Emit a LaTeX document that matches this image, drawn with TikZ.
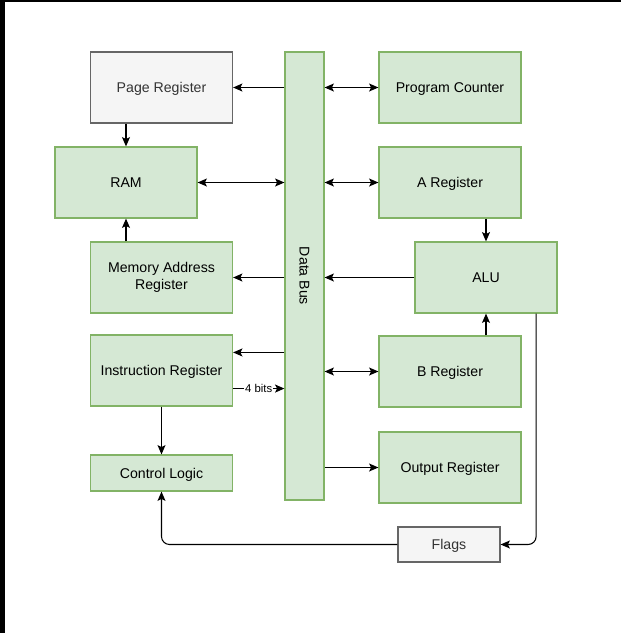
\documentclass[tikz,border=0pt]{standalone}
\usepackage{fontspec}
\setmainfont{Liberation Sans}
\usetikzlibrary{arrows.meta, calc}
\definecolor{regfill}{HTML}{D5E8D4}
\definecolor{regborder}{HTML}{82B366}
\definecolor{auxfill}{HTML}{F5F5F5}
\definecolor{auxborder}{HTML}{666666}
\definecolor{auxtext}{HTML}{333333}

\begin{document}
\begin{tikzpicture}[x=0.75pt, y=-0.75pt, >={Stealth[length=7pt, width=6pt, inset=1.5pt]},
    reg/.style={draw=regborder, fill=regfill, line width=0.9pt, text=black,
      minimum width=106.5pt, minimum height=53.25pt, inner sep=0pt, align=center,
      text depth=0pt, font=\fontsize{10.6}{12.8}\selectfont},
    aux/.style={reg, draw=auxborder, fill=auxfill, text=auxtext},
    link/.style={line width=0.8pt}]
  \useasboundingbox (0,0) rectangle (621,633);
  \fill[black] (0,0) rectangle (621,2);
  \fill[black] (0,0) rectangle (5,633);

  \node[aux] (pagereg) at (161.5,87.5) {Page Register};
  \node[reg] (ram) at (126,182.5) {RAM};
  \node[reg, text depth=] (mar) at (161.5,277.5) {Memory Address\\Register};
  \node[reg] (ir) at (161.5,370.5) {Instruction Register};
  \node[reg, minimum height=27pt] (ctrl) at (161.5,473) {Control Logic};
  \node[reg, minimum width=29.25pt, minimum height=336pt] (bus) at (304.5,276) {};
  \node[rotate=-90, font=\fontsize{10.6}{12.8}\selectfont] (buslabel) at (bus.center) {Data Bus};
  \node[reg] (pc) at (450,87.5) {Program Counter};
  \node[reg] (areg) at (450,182.5) {A Register};
  \node[reg] (alu) at (486,277.5) {ALU};
  \node[reg] (breg) at (450,371.5) {B Register};
  \node[reg] (outreg) at (450,467.5) {Output Register};
  \node[aux, minimum width=76.5pt, minimum height=26.25pt] (flags) at (449,544.5) {Flags};

  \draw[link, ->] (bus.west |- pagereg.east) -- (pagereg.east);
  \draw[link, ->] (pagereg.south -| ram.north) -- (ram.north);
  \draw[link, <->] (ram.east) -- (ram.east -| bus.west);
  \draw[link, ->] (mar.north -| ram.south) -- (ram.south);
  \draw[link, ->] (bus.west |- mar.east) -- (mar.east);
  \coordinate (irin) at ($(ir.north east)!0.25!(ir.south east)$);
  \coordinate (irout) at ($(ir.north east)!0.75!(ir.south east)$);
  \draw[link, ->] (bus.west |- irin) -- (irin);
  \draw[link, ->] (irout) -- (irout -| bus.west)
    node[midway, fill=white, inner sep=0.8pt, font=\fontsize{8.5}{10}\selectfont] {4 bits};
  \draw[link, ->] (ir.south) -- (ctrl.north);

  \draw[link, <->] (bus.east |- pc.west) -- (pc.west);
  \draw[link, <->] (bus.east |- areg.west) -- (areg.west);
  \draw[link, ->] (areg.south -| alu.north) -- (alu.north);
  \draw[link, ->] (alu.west) -- (alu.west -| bus.east);
  \draw[link, ->] (breg.north -| alu.south) -- (alu.south);
  \draw[link, <->] (bus.east |- breg.west) -- (breg.west);
  \draw[link, ->] (bus.east |- outreg.west) -- (outreg.west);

  \coordinate (aluout) at ($(alu.south west)!0.85!(alu.south east)$);
  \draw[link, ->, rounded corners=6pt] (aluout) |- (flags.east);
  \draw[link, ->, rounded corners=6pt] (flags.west) -| (ctrl.south);
\end{tikzpicture}
\end{document}
